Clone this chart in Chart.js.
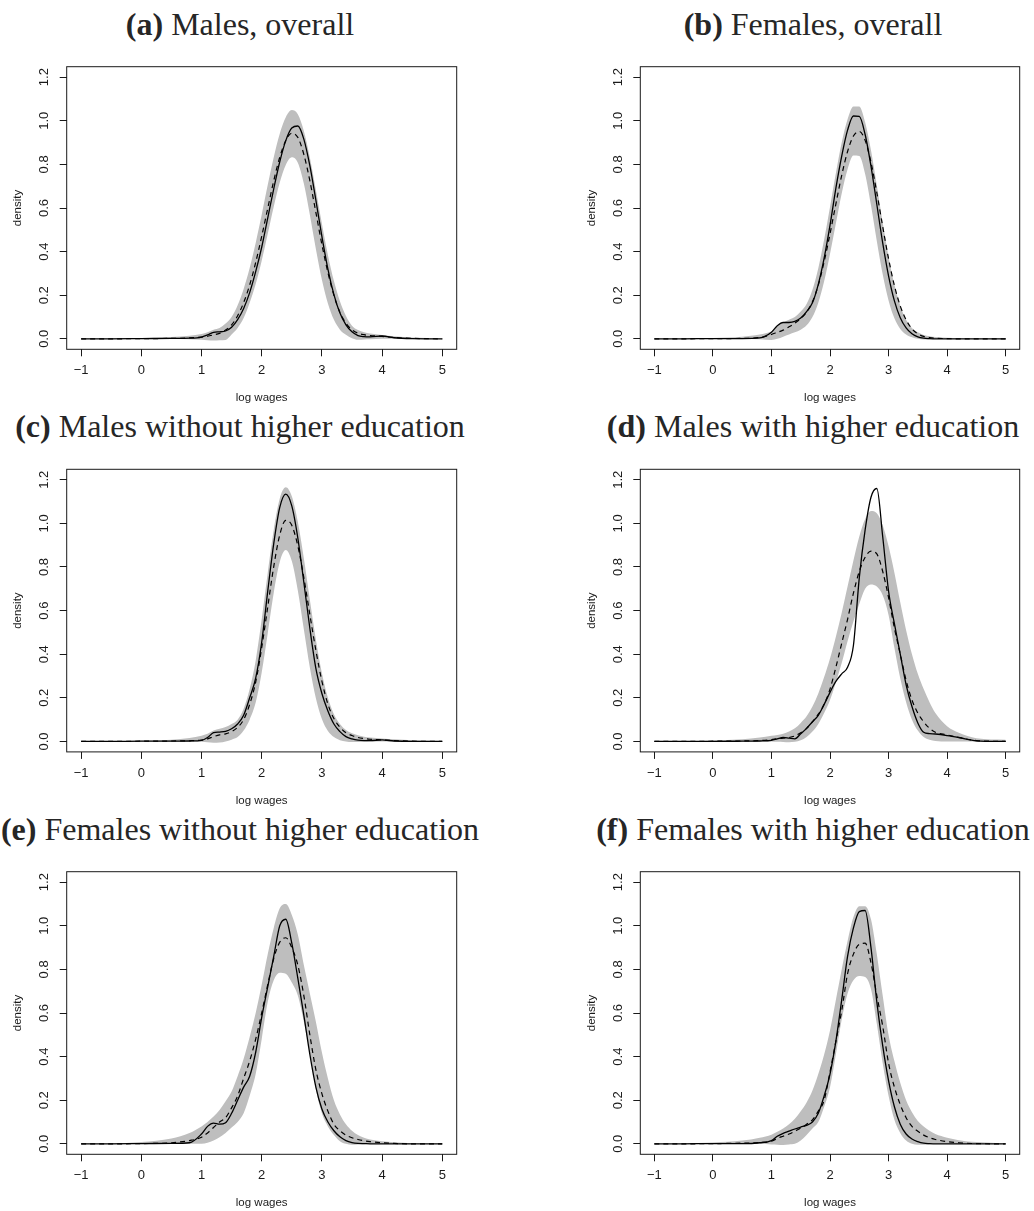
<!DOCTYPE html>
<html>
<head>
<meta charset="utf-8">
<title>Log wage densities</title>
<script src="https://cdn.jsdelivr.net/npm/chart.js@4.4.1/dist/chart.umd.min.js"></script>
<style>
    body { margin: 0; background: #fff; width: 1034px; height: 1211px; overflow: hidden; position: relative; }
    .panel-title {
        position: absolute;
        font-family: "Liberation Serif", "DejaVu Serif", serif;
        font-size: 32px;
        line-height: 32px;
        color: #262626;
        white-space: nowrap;
        transform: translateX(-50%);
    }
    .panel-title b { font-weight: bold; }
    .chart-box { position: absolute; }
</style>
</head>
<body>
<script>
// x grid shared by every curve (log wages)
const logWage = [-1, -0.5, 0, 0.5, 0.8, 1.0, 1.1, 1.2, 1.3, 1.4, 1.5, 1.6, 1.7, 1.8, 1.9, 2.0, 2.1, 2.2, 2.3, 2.4,
                 2.5, 2.6, 2.7, 2.8, 2.9, 3.0, 3.1, 3.2, 3.3, 3.4, 3.5, 3.6, 3.7, 3.8, 4.0, 4.2, 4.5, 5.0];

const xTicks = [-1, 0, 1, 2, 3, 4, 5];
const yTicks = [0, 0.2, 0.4, 0.6, 0.8, 1.0, 1.2];

// (a) Males, overall
const solidA = [0, 0, 0.001, 0.002, 0.003, 0.008, 0.018, 0.03, 0.032, 0.036, 0.053, 0.088, 0.139, 0.212, 0.308, 0.42, 0.554, 0.688, 0.812, 0.909,
                0.967, 0.976, 0.916, 0.794, 0.636, 0.47, 0.32, 0.203, 0.118, 0.064, 0.032, 0.015, 0.01, 0.009, 0.013, 0.005, 0.001, 0];
const dashedA = [0, 0, 0.001, 0.002, 0.004, 0.008, 0.012, 0.018, 0.025, 0.04, 0.064, 0.106, 0.166, 0.247, 0.35, 0.47, 0.598, 0.725, 0.833, 0.909,
                 0.943, 0.924, 0.846, 0.725, 0.58, 0.433, 0.304, 0.199, 0.121, 0.072, 0.042, 0.026, 0.019, 0.015, 0.011, 0.006, 0.002, 0];
const upperA = [0.0005, 0.001, 0.003, 0.008, 0.014, 0.022, 0.03, 0.042, 0.05, 0.07, 0.1, 0.154, 0.229, 0.325, 0.44, 0.569, 0.705, 0.833, 0.941, 1.016,
                1.049, 1.03, 0.953, 0.832, 0.683, 0.529, 0.385, 0.265, 0.172, 0.105, 0.06, 0.04, 0.03, 0.025, 0.018, 0.012, 0.006, 0.002];
const lowerA = [0, 0, 0, 0, -0.002, -0.004, -0.006, -0.008, -0.007, -0.005, 0.02, 0.05, 0.095, 0.165, 0.251, 0.358, 0.481, 0.606, 0.717, 0.797,
                0.833, 0.808, 0.712, 0.569, 0.412, 0.271, 0.162, 0.087, 0.042, 0.019, 0.003, -0.004, -0.003, -0.002, 0, 0, 0, 0];

// (b) Females, overall
const solidB = [0, 0, 0.001, 0.001, 0.004, 0.03, 0.06, 0.075, 0.075, 0.08, 0.095, 0.125, 0.165, 0.25, 0.37, 0.52, 0.69, 0.838, 0.957, 1.022,
                1.02, 0.937, 0.792, 0.616, 0.44, 0.289, 0.174, 0.097, 0.05, 0.023, 0.009, 0.003, 0.001, 0, 0, 0, 0, 0];
const dashedB = [0, 0, 0.001, 0.002, 0.006, 0.02, 0.03, 0.04, 0.055, 0.072, 0.093, 0.122, 0.17, 0.246, 0.354, 0.481, 0.618, 0.75, 0.859, 0.93,
                 0.951, 0.91, 0.81, 0.67, 0.515, 0.368, 0.244, 0.151, 0.087, 0.046, 0.023, 0.011, 0.006, 0.003, 0.001, 0, 0, 0];
const upperB = [0, 0.001, 0.004, 0.01, 0.02, 0.035, 0.055, 0.075, 0.088, 0.1, 0.125, 0.16, 0.225, 0.324, 0.455, 0.605, 0.759, 0.9, 1.007, 1.066,
                1.065, 0.993, 0.865, 0.703, 0.533, 0.377, 0.249, 0.153, 0.088, 0.05, 0.03, 0.018, 0.012, 0.008, 0.005, 0.003, 0.002, 0.001];
const lowerB = [0, 0, 0, 0, -0.002, -0.005, 0, 0.01, 0.02, 0.03, 0.042, 0.062, 0.1, 0.166, 0.264, 0.389, 0.529, 0.667, 0.778, 0.841,
                0.838, 0.756, 0.613, 0.448, 0.296, 0.176, 0.094, 0.045, 0.02, 0.007, 0, -0.003, -0.002, -0.001, 0, 0, 0, 0];

// (c) Males without higher education
const solidC = [0, 0, 0.001, 0.001, 0.002, 0.005, 0.018, 0.04, 0.043, 0.046, 0.058, 0.08, 0.12, 0.2, 0.29, 0.455, 0.688, 0.907, 1.073, 1.134,
                1.08, 0.933, 0.73, 0.519, 0.335, 0.22, 0.14, 0.08, 0.045, 0.022, 0.012, 0.006, 0.004, 0.004, 0.007, 0.002, 0, 0];
const dashedC = [0, 0, 0.001, 0.002, 0.003, 0.006, 0.012, 0.022, 0.03, 0.035, 0.045, 0.065, 0.1, 0.17, 0.272, 0.43, 0.616, 0.802, 0.947, 1.014,
                 0.991, 0.897, 0.751, 0.582, 0.418, 0.277, 0.171, 0.105, 0.065, 0.04, 0.027, 0.018, 0.013, 0.01, 0.007, 0.004, 0.001, 0];
const upperC = [0, 0.001, 0.003, 0.008, 0.016, 0.026, 0.035, 0.05, 0.058, 0.066, 0.08, 0.1, 0.15, 0.24, 0.37, 0.56, 0.772, 0.97, 1.114, 1.166,
                1.124, 1.007, 0.84, 0.65, 0.468, 0.314, 0.2, 0.125, 0.08, 0.052, 0.037, 0.028, 0.022, 0.018, 0.014, 0.01, 0.005, 0.002];
const lowerC = [0, 0, 0, 0, 0, -0.002, -0.004, -0.006, -0.005, 0, 0.008, 0.02, 0.05, 0.1, 0.178, 0.316, 0.495, 0.681, 0.823, 0.878,
                0.827, 0.692, 0.514, 0.339, 0.198, 0.103, 0.048, 0.02, 0.006, 0, -0.003, -0.003, -0.002, 0, 0, 0, 0, 0];

// (d) Males with higher education
const solidD = [0, 0, 0, 0.001, 0.002, 0.005, 0.012, 0.018, 0.015, 0.012, 0.035, 0.06, 0.09, 0.12, 0.17, 0.225, 0.275, 0.31, 0.34, 0.44,
                0.75, 0.97, 1.12, 1.16, 0.94, 0.69, 0.54, 0.4, 0.26, 0.16, 0.085, 0.042, 0.036, 0.034, 0.027, 0.018, 0.003, 0];
const dashedD = [0, 0, 0.001, 0.002, 0.004, 0.008, 0.012, 0.015, 0.018, 0.025, 0.04, 0.06, 0.09, 0.125, 0.17, 0.24, 0.34, 0.45, 0.56, 0.68,
                 0.78, 0.845, 0.873, 0.86, 0.78, 0.66, 0.52, 0.4, 0.28, 0.19, 0.13, 0.09, 0.06, 0.042, 0.03, 0.018, 0.004, 0];
const upperD = [0, 0.001, 0.004, 0.01, 0.018, 0.026, 0.03, 0.035, 0.045, 0.06, 0.085, 0.115, 0.16, 0.22, 0.295, 0.38, 0.48, 0.59, 0.71, 0.83,
                0.94, 1.02, 1.057, 1.047, 0.991, 0.896, 0.774, 0.638, 0.51, 0.4, 0.31, 0.24, 0.18, 0.13, 0.07, 0.04, 0.015, 0.008];
const lowerD = [0, 0, 0, 0, 0, 0, -0.002, -0.003, -0.004, -0.002, 0.005, 0.02, 0.045, 0.08, 0.13, 0.19, 0.27, 0.36, 0.46, 0.55,
                0.63, 0.7, 0.72, 0.71, 0.67, 0.58, 0.43, 0.29, 0.18, 0.1, 0.05, 0.02, 0.008, 0.002, 0, 0, 0, 0];

// (e) Females without higher education
const solidE = [0, 0, 0.001, 0.002, 0.005, 0.045, 0.08, 0.095, 0.09, 0.097, 0.14, 0.2, 0.26, 0.31, 0.42, 0.58, 0.72, 0.86, 1.0, 1.03,
                0.92, 0.76, 0.59, 0.41, 0.26, 0.16, 0.1, 0.06, 0.032, 0.015, 0.006, 0.002, 0.001, 0, 0, 0, 0, 0];
const dashedE = [0, 0, 0.001, 0.005, 0.015, 0.03, 0.05, 0.075, 0.1, 0.12, 0.165, 0.22, 0.3, 0.38, 0.48, 0.6, 0.73, 0.85, 0.925, 0.945,
                 0.9, 0.82, 0.68, 0.5, 0.34, 0.23, 0.15, 0.09, 0.06, 0.04, 0.028, 0.02, 0.014, 0.01, 0.005, 0.002, 0, 0];
const upperE = [0.001, 0.002, 0.008, 0.025, 0.05, 0.08, 0.1, 0.125, 0.155, 0.195, 0.24, 0.31, 0.39, 0.49, 0.6, 0.73, 0.87, 0.99, 1.08, 1.1,
                1.05, 0.96, 0.82, 0.69, 0.56, 0.42, 0.3, 0.2, 0.135, 0.09, 0.06, 0.04, 0.028, 0.02, 0.012, 0.007, 0.003, 0.001];
const lowerE = [0, 0, 0, 0, 0, 0, 0.005, 0.015, 0.03, 0.05, 0.075, 0.1, 0.14, 0.22, 0.32, 0.48, 0.65, 0.75, 0.785, 0.78,
                0.74, 0.68, 0.56, 0.42, 0.25, 0.14, 0.08, 0.04, 0.012, 0, -0.004, -0.003, -0.002, 0, 0, 0, 0, 0];

// (f) Females with higher education
const solidF = [0, 0, 0.001, 0.001, 0.005, 0.015, 0.035, 0.048, 0.058, 0.068, 0.077, 0.085, 0.1, 0.14, 0.22, 0.32, 0.47, 0.66, 0.86, 0.99,
                1.065, 1.07, 0.9, 0.65, 0.45, 0.29, 0.17, 0.09, 0.045, 0.022, 0.01, 0.003, 0.001, 0, 0, 0, 0, 0];
const dashedF = [0, 0, 0.001, 0.003, 0.006, 0.012, 0.025, 0.035, 0.045, 0.058, 0.072, 0.09, 0.11, 0.15, 0.2, 0.33, 0.47, 0.61, 0.78, 0.87,
                 0.915, 0.92, 0.83, 0.68, 0.54, 0.37, 0.26, 0.18, 0.12, 0.08, 0.058, 0.04, 0.028, 0.02, 0.01, 0.005, 0.001, 0];
const upperF = [0, 0.002, 0.006, 0.015, 0.028, 0.042, 0.055, 0.07, 0.09, 0.115, 0.15, 0.19, 0.245, 0.32, 0.41, 0.52, 0.66, 0.8, 0.93, 1.04,
                1.09, 1.09, 1.03, 0.87, 0.68, 0.5, 0.38, 0.28, 0.2, 0.145, 0.105, 0.08, 0.06, 0.045, 0.028, 0.017, 0.008, 0.002];
const lowerF = [0, 0, 0, 0, 0, -0.003, -0.004, -0.005, -0.003, 0, 0.015, 0.04, 0.07, 0.1, 0.17, 0.26, 0.41, 0.57, 0.69, 0.75,
                0.77, 0.765, 0.71, 0.55, 0.37, 0.22, 0.11, 0.05, 0.015, 0, -0.004, -0.004, -0.003, 0, 0, 0, 0, 0];

const panels = [
    {tag: '(a)', title: 'Males, overall', col: 0, row: 0, solid: solidA, dashed: dashedA, upper: upperA, lower: lowerA},
    {tag: '(b)', title: 'Females, overall', col: 1, row: 0, solid: solidB, dashed: dashedB, upper: upperB, lower: lowerB},
    {tag: '(c)', title: 'Males without higher education', col: 0, row: 1, solid: solidC, dashed: dashedC, upper: upperC, lower: lowerC},
    {tag: '(d)', title: 'Males with higher education', col: 1, row: 1, solid: solidD, dashed: dashedD, upper: upperD, lower: lowerD},
    {tag: '(e)', title: 'Females without higher education', col: 0, row: 2, solid: solidE, dashed: dashedE, upper: upperE, lower: lowerE},
    {tag: '(f)', title: 'Females with higher education', col: 1, row: 2, solid: solidF, dashed: dashedF, upper: upperF, lower: lowerF}
];

// page geometry (pixels)
const PLOT_LEFT = [66.7, 640.3];
const PLOT_RIGHT = [456.7, 1019.7];
const PLOT_TOP = [66.7, 469.3, 871.7];
const PLOT_H = 282.6;
const CANVAS_LEFT = [0, 574];
const CANVAS_W = [480, 460];
const CANVAS_TOP = [50, 452, 855];
const CANVAS_H = 358;
const TITLE_X = [240, 813];
const TITLE_TOP = [7.5, 410, 813.3];

const INK = '#1a1a1a';
const BAND = '#bebebe';

Chart.defaults.font.family = '"Liberation Sans", Arial, sans-serif';
Chart.defaults.color = INK;

// draws the closed box round the plot region, like R's box()
const framePlugin = {
    id: 'frame',
    afterDraw(chart) {
        const {ctx, chartArea} = chart;
        ctx.save();
        ctx.strokeStyle = INK;
        ctx.lineWidth = 1;
        ctx.strokeRect(chartArea.left, chartArea.top, chartArea.right - chartArea.left, chartArea.bottom - chartArea.top);
        ctx.restore();
    }
};

function toPoints(values) {
    return logWage.map((x, i) => ({x: x, y: values[i]}));
}

function addTitle(panel) {
    const div = document.createElement('div');
    div.className = 'panel-title';
    div.style.left = TITLE_X[panel.col] + 'px';
    div.style.top = TITLE_TOP[panel.row] + 'px';
    div.innerHTML = '<b>' + panel.tag + '</b> ' + panel.title;
    document.body.appendChild(div);
}

function makeChart(panel) {
    const col = panel.col, row = panel.row;
    const yAxisWidth = PLOT_LEFT[col] - CANVAS_LEFT[col];
    const padRight = CANVAS_LEFT[col] + CANVAS_W[col] - PLOT_RIGHT[col];
    const padTop = PLOT_TOP[row] - CANVAS_TOP[row];
    const xAxisHeight = CANVAS_H - padTop - PLOT_H;
    const xTitlePad = CANVAS_H - (padTop + PLOT_H + 48.7) - 6.9;

    const box = document.createElement('div');
    box.className = 'chart-box';
    box.style.left = CANVAS_LEFT[col] + 'px';
    box.style.top = CANVAS_TOP[row] + 'px';
    const canvas = document.createElement('canvas');
    canvas.width = CANVAS_W[col];
    canvas.height = CANVAS_H;
    canvas.style.width = CANVAS_W[col] + 'px';
    canvas.style.height = CANVAS_H + 'px';
    box.appendChild(canvas);
    document.body.appendChild(box);

    new Chart(canvas.getContext('2d'), {
        type: 'line',
        data: {
            datasets: [
                {
                    data: toPoints(panel.upper),
                    borderWidth: 0,
                    borderColor: 'rgba(0,0,0,0)',
                    backgroundColor: BAND,
                    fill: '+1',
                    order: 3
                },
                {
                    data: toPoints(panel.lower),
                    borderWidth: 0,
                    borderColor: 'rgba(0,0,0,0)',
                    fill: false,
                    order: 3
                },
                {
                    data: toPoints(panel.solid),
                    borderColor: '#000',
                    borderWidth: 1.3,
                    fill: false,
                    order: 1
                },
                {
                    data: toPoints(panel.dashed),
                    borderColor: '#000',
                    borderWidth: 1.2,
                    borderDash: [5, 4],
                    fill: false,
                    order: 0
                }
            ]
        },
        options: {
            responsive: false,
            animation: false,
            events: [],
            devicePixelRatio: 1,
            layout: {padding: {top: padTop, right: padRight, left: 0, bottom: 0}},
            elements: {
                point: {radius: 0, hoverRadius: 0},
                line: {cubicInterpolationMode: 'monotone'}
            },
            plugins: {
                legend: {display: false},
                tooltip: {enabled: false},
                filler: {propagate: false}
            },
            scales: {
                x: {
                    type: 'linear',
                    min: -1.24,
                    max: 5.24,
                    afterFit: (scale) => { scale.height = xAxisHeight; },
                    afterBuildTicks: (scale) => { scale.ticks = xTicks.map(v => ({value: v})); },
                    border: {display: false},
                    grid: {drawOnChartArea: false, drawTicks: true, tickLength: 7, color: INK, tickColor: INK, lineWidth: 1},
                    ticks: {
                        autoSkip: false,
                        maxRotation: 0,
                        padding: 6.5,
                        font: {size: 13},
                        color: INK,
                        callback: (v) => v < 0 ? '\u2212' + Math.abs(v) : String(v)
                    },
                    title: {display: true, text: 'log wages', font: {size: 11.5}, color: INK, padding: {top: 0, bottom: xTitlePad}}
                },
                y: {
                    type: 'linear',
                    min: -0.048,
                    max: 1.248,
                    afterFit: (scale) => { scale.width = yAxisWidth; },
                    afterBuildTicks: (scale) => { scale.ticks = yTicks.map(v => ({value: v})); },
                    border: {display: false},
                    grid: {drawOnChartArea: false, drawTicks: true, tickLength: 7, color: INK, tickColor: INK, lineWidth: 1},
                    ticks: {
                        autoSkip: false,
                        minRotation: 90,
                        maxRotation: 90,
                        crossAlign: 'center',
                        padding: 5.8,
                        font: {size: 13},
                        color: INK,
                        callback: (v) => Number(v).toFixed(1)
                    },
                    title: {display: true, text: 'density', font: {size: 11.5}, color: INK, padding: {top: 11, bottom: 0}}
                }
            }
        },
        plugins: [framePlugin]
    });
}

panels.forEach(panel => {
    addTitle(panel);
    makeChart(panel);
});
</script>
</body>
</html>
